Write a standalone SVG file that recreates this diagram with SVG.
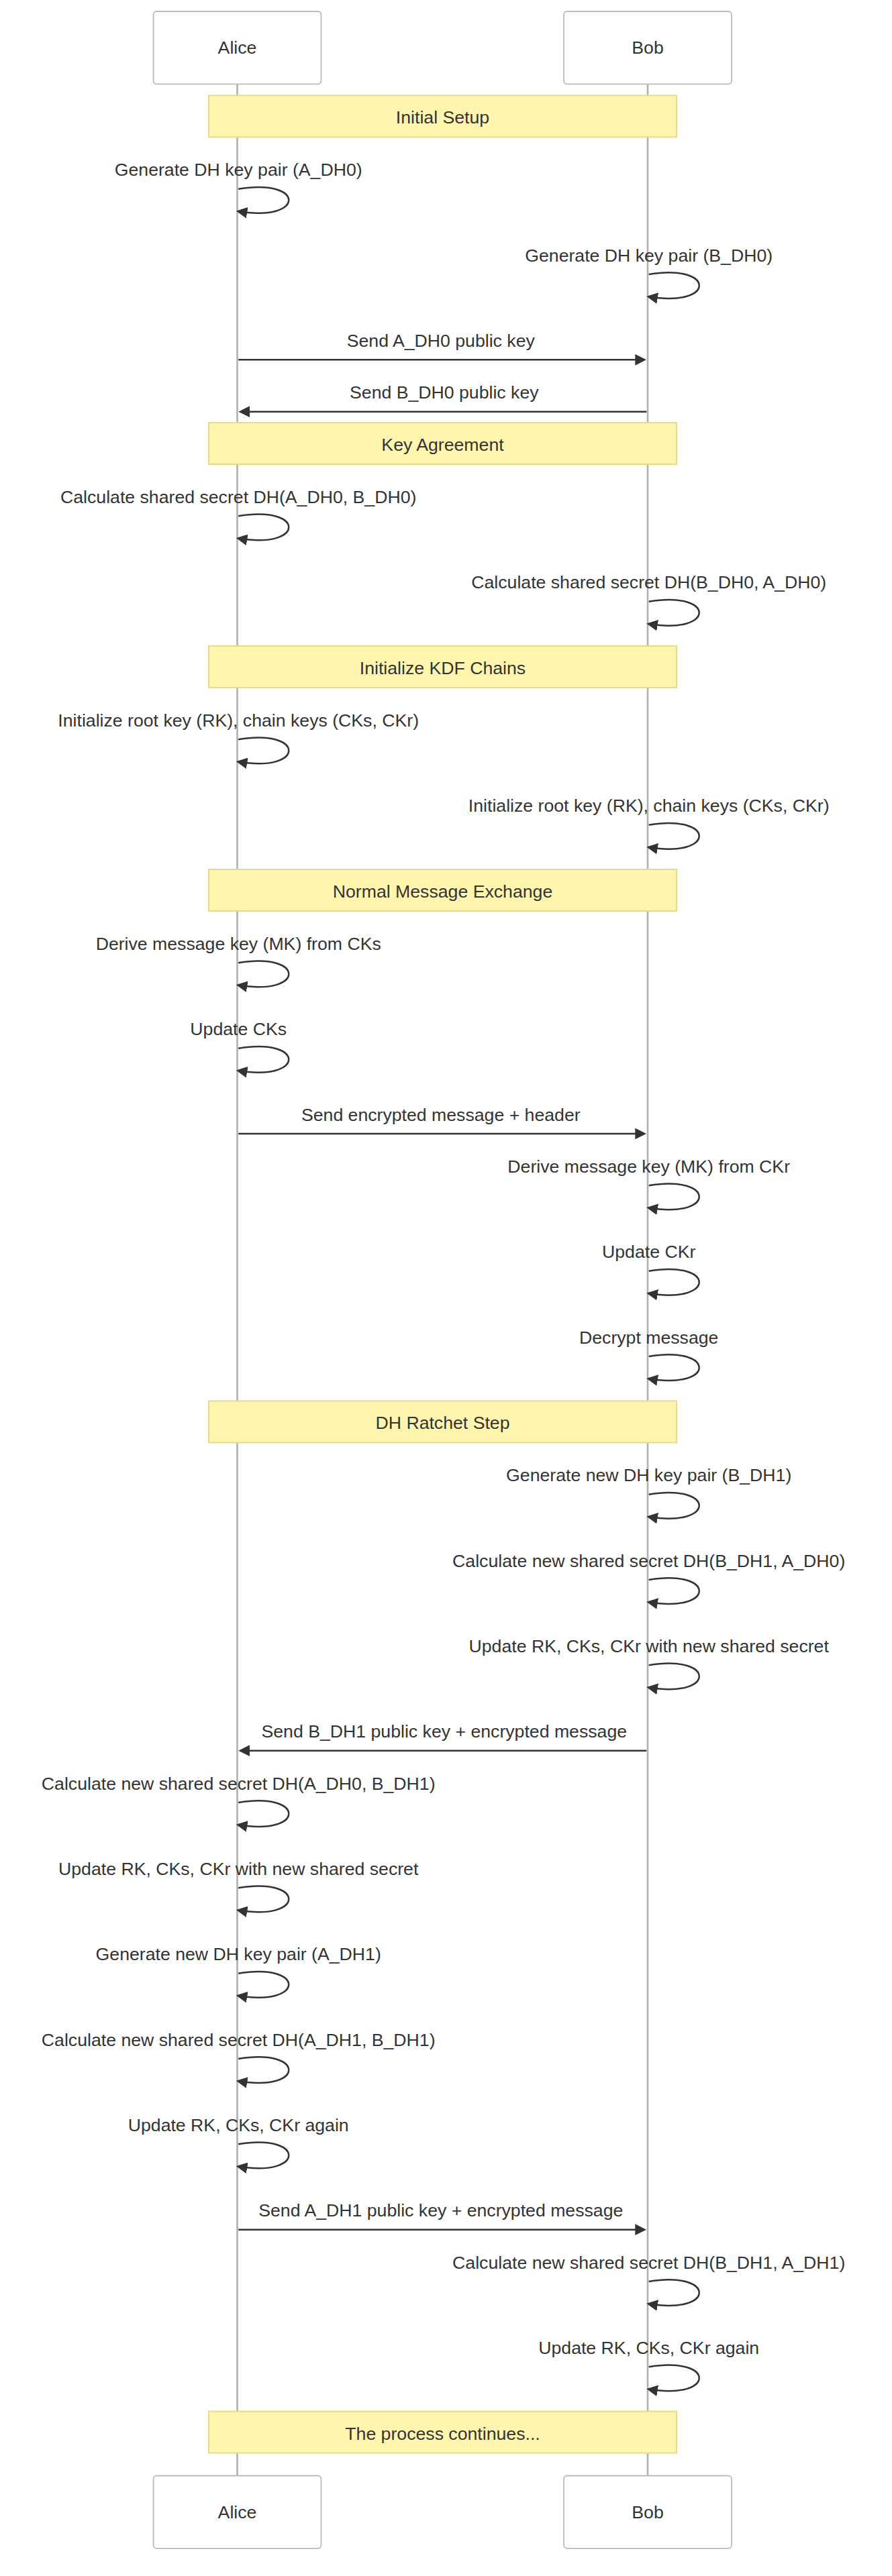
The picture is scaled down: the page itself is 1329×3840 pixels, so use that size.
<svg xmlns="http://www.w3.org/2000/svg" width="1329" height="3840" viewBox="0 0 1329 3840">
<style>
text{font-family:"Liberation Sans",Arial,Helvetica,sans-serif;font-size:26.67px;fill:#333;}
.actor rect{fill:#fff;stroke:#bbb;stroke-width:1.8;}
.actor text{text-anchor:middle;}
.life{stroke:#b0b0b0;stroke-width:2.6;}
.note rect{fill:#fff5ad;stroke:#e6da8e;stroke-width:2;}
.note text{text-anchor:middle;}
.msg{stroke:#333;stroke-width:2.5;fill:none;marker-end:url(#arrowhead);}
.mt{text-anchor:middle;}
</style>
<defs>
<marker id="arrowhead" viewBox="0 0 10 10" refX="7.9" refY="5" markerUnits="userSpaceOnUse" markerWidth="16.67" markerHeight="16.67" orient="auto"><path d="M0,0 L10,5 L0,10 z" fill="#333"/></marker>
</defs>
<rect x="0" y="0" width="1329" height="3840" fill="#fff"/>
<g id="lifelines">
<line class="life" x1="353.5" y1="125" x2="353.5" y2="3690"/>
<line class="life" x1="965" y1="125" x2="965" y2="3690"/>
</g>
<g id="actor-alice-top" class="actor"><rect x="228.5" y="17" width="250" height="108.3" rx="5"/><text x="353.5" y="80">Alice</text></g>
<g id="actor-bob-top" class="actor"><rect x="840" y="17" width="250" height="108.3" rx="5"/><text x="965" y="80">Bob</text></g>
<g id="actor-alice-bottom" class="actor"><rect x="228.5" y="3690.5" width="250" height="108.3" rx="5"/><text x="353.5" y="3754.3">Alice</text></g>
<g id="actor-bob-bottom" class="actor"><rect x="840" y="3690.5" width="250" height="108.3" rx="5"/><text x="965" y="3754.3">Bob</text></g>
<g id="note-initial-setup" class="note"><rect x="311" y="142.3" width="697" height="62"/><text x="659.5" y="184.1">Initial Setup</text></g>
<g id="note-key-agreement" class="note"><rect x="311" y="630" width="697" height="62"/><text x="659.5" y="671.8">Key Agreement</text></g>
<g id="note-kdf" class="note"><rect x="311" y="963" width="697" height="62"/><text x="659.5" y="1004.8">Initialize KDF Chains</text></g>
<g id="note-normal" class="note"><rect x="311" y="1296" width="697" height="62"/><text x="659.5" y="1337.8">Normal Message Exchange</text></g>
<g id="note-dh-ratchet" class="note"><rect x="311" y="2088.4" width="697" height="62"/><text x="659.5" y="2130.2">DH Ratchet Step</text></g>
<g id="note-continues" class="note"><rect x="311" y="3594.7" width="697" height="62"/><text x="659.5" y="3636.5">The process continues...</text></g>
<g id="connectors">
<text class="mt" x="355.2" y="262.4">Generate DH key pair (A_DH0)</text>
<path class="msg" d="M355.2,281.7 C455.2,265 455.2,331.7 355.2,315"/>
<text class="mt" x="966.7" y="389.7">Generate DH key pair (B_DH0)</text>
<path class="msg" d="M966.7,409 C1066.7,392.3 1066.7,459 966.7,442.3"/>
<text class="mt" x="656.8" y="517">Send A_DH0 public key</text>
<line class="msg" x1="355.2" y1="536.3" x2="959.5" y2="536.3"/>
<text class="mt" x="661.8" y="594.4">Send B_DH0 public key</text>
<line class="msg" x1="963.3" y1="613.7" x2="358.8" y2="613.7"/>
<text class="mt" x="355.2" y="750">Calculate shared secret DH(A_DH0, B_DH0)</text>
<path class="msg" d="M355.2,769.3 C455.2,752.6 455.2,819.3 355.2,802.6"/>
<text class="mt" x="966.7" y="877.4">Calculate shared secret DH(B_DH0, A_DH0)</text>
<path class="msg" d="M966.7,896.7 C1066.7,880 1066.7,946.7 966.7,930"/>
<text class="mt" x="355.2" y="1083">Initialize root key (RK), chain keys (CKs, CKr)</text>
<path class="msg" d="M355.2,1102.3 C455.2,1085.6 455.2,1152.3 355.2,1135.6"/>
<text class="mt" x="966.7" y="1210.4">Initialize root key (RK), chain keys (CKs, CKr)</text>
<path class="msg" d="M966.7,1229.7 C1066.7,1213 1066.7,1279.7 966.7,1263"/>
<text class="mt" x="355.2" y="1416">Derive message key (MK) from CKs</text>
<path class="msg" d="M355.2,1435.3 C455.2,1418.6 455.2,1485.3 355.2,1468.6"/>
<text class="mt" x="355.2" y="1543.4">Update CKs</text>
<path class="msg" d="M355.2,1562.7 C455.2,1546 455.2,1612.7 355.2,1596"/>
<text class="mt" x="656.8" y="1670.7">Send encrypted message + header</text>
<line class="msg" x1="355.2" y1="1690" x2="959.5" y2="1690"/>
<text class="mt" x="966.7" y="1748">Derive message key (MK) from CKr</text>
<path class="msg" d="M966.7,1767.3 C1066.7,1750.6 1066.7,1817.3 966.7,1800.6"/>
<text class="mt" x="966.7" y="1875.4">Update CKr</text>
<path class="msg" d="M966.7,1894.7 C1066.7,1878 1066.7,1944.7 966.7,1928"/>
<text class="mt" x="966.7" y="2002.7">Decrypt message</text>
<path class="msg" d="M966.7,2022 C1066.7,2005.3 1066.7,2072 966.7,2055.3"/>
<text class="mt" x="966.7" y="2208.4">Generate new DH key pair (B_DH1)</text>
<path class="msg" d="M966.7,2227.7 C1066.7,2211 1066.7,2277.7 966.7,2261"/>
<text class="mt" x="966.7" y="2335.7">Calculate new shared secret DH(B_DH1, A_DH0)</text>
<path class="msg" d="M966.7,2355 C1066.7,2338.3 1066.7,2405 966.7,2388.3"/>
<text class="mt" x="966.7" y="2463">Update RK, CKs, CKr with new shared secret</text>
<path class="msg" d="M966.7,2482.3 C1066.7,2465.6 1066.7,2532.3 966.7,2515.6"/>
<text class="mt" x="661.8" y="2590.4">Send B_DH1 public key + encrypted message</text>
<line class="msg" x1="963.3" y1="2609.7" x2="358.8" y2="2609.7"/>
<text class="mt" x="355.2" y="2667.7">Calculate new shared secret DH(A_DH0, B_DH1)</text>
<path class="msg" d="M355.2,2687 C455.2,2670.3 455.2,2737 355.2,2720.3"/>
<text class="mt" x="355.2" y="2795">Update RK, CKs, CKr with new shared secret</text>
<path class="msg" d="M355.2,2814.3 C455.2,2797.6 455.2,2864.3 355.2,2847.6"/>
<text class="mt" x="355.2" y="2922.4">Generate new DH key pair (A_DH1)</text>
<path class="msg" d="M355.2,2941.7 C455.2,2925 455.2,2991.7 355.2,2975"/>
<text class="mt" x="355.2" y="3049.7">Calculate new shared secret DH(A_DH1, B_DH1)</text>
<path class="msg" d="M355.2,3069 C455.2,3052.3 455.2,3119 355.2,3102.3"/>
<text class="mt" x="355.2" y="3177">Update RK, CKs, CKr again</text>
<path class="msg" d="M355.2,3196.3 C455.2,3179.6 455.2,3246.3 355.2,3229.6"/>
<text class="mt" x="656.8" y="3304.4">Send A_DH1 public key + encrypted message</text>
<line class="msg" x1="355.2" y1="3323.7" x2="959.5" y2="3323.7"/>
<text class="mt" x="966.7" y="3381.7">Calculate new shared secret DH(B_DH1, A_DH1)</text>
<path class="msg" d="M966.7,3401 C1066.7,3384.3 1066.7,3451 966.7,3434.3"/>
<text class="mt" x="966.7" y="3509">Update RK, CKs, CKr again</text>
<path class="msg" d="M966.7,3528.3 C1066.7,3511.6 1066.7,3578.3 966.7,3561.6"/>
</g>
</svg>
